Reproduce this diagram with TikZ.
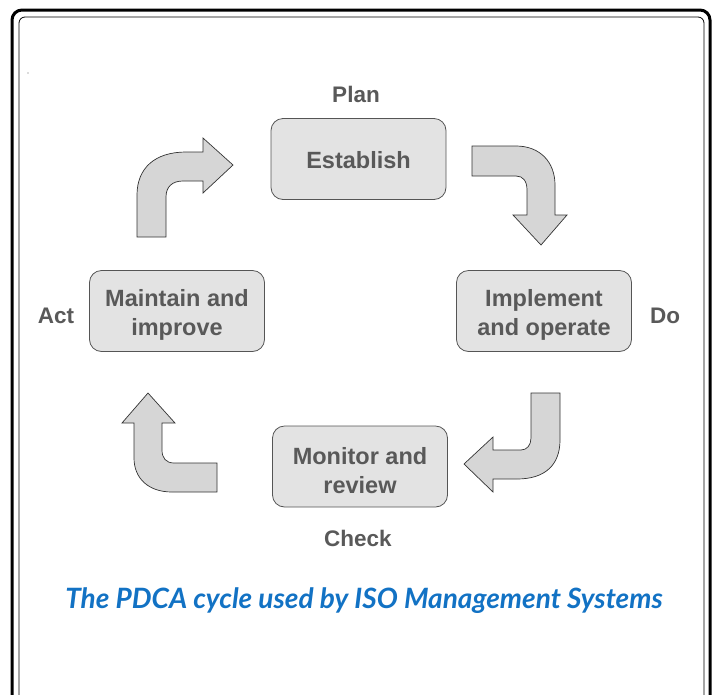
\documentclass[tikz,border=0pt]{standalone}
\usepackage{fontspec}
\setmainfont{Liberation Sans}
\newfontfamily\capfont{Lato}
\definecolor{txtgray}{HTML}{595959}
\definecolor{boxfill}{HTML}{E3E3E3}
\definecolor{boxline}{HTML}{555555}
\definecolor{arrfill}{HTML}{D6D6D6}
\definecolor{capblue}{HTML}{1272C4}
\begin{document}
\begin{tikzpicture}[x=1pt,y=-1pt,
  stagebox/.style={draw=boxline, line width=0.8pt, fill=boxfill, rounded corners=12pt,
    minimum width=175pt, minimum height=81pt, inner sep=0pt},
  stagetext/.style={align=center, text=txtgray,
    font=\fontsize{23.5}{29.5}\selectfont\bfseries, inner sep=0pt},
  phase/.style={text=txtgray, font=\fontsize{22.5}{26}\selectfont\bfseries, inner sep=0pt},
  blockarrow/.style={draw=black!80, line width=0.7pt, fill=arrfill, line join=miter}]
\useasboundingbox (0,0) rectangle (715,694);
\begin{scope}
\clip (0,0) rectangle (715,694);
\draw[line width=3pt, rounded corners=10pt] (12,740) -- (12,10) -- (710,10) -- (710,740);
\draw[line width=0.8pt, rounded corners=6pt] (19,740) -- (19,17) -- (704,17) -- (704,740);
\end{scope}
\fill[black!60] (28,73) circle (0.6);

\node[stagebox] (est) at (358.5,159) {};
\node[stagebox] (imp) at (544,311) {};
\node[stagebox] (mon) at (360,466.5) {};
\node[stagebox] (mai) at (177,311) {};
\node[stagetext] (estt) at ([yshift=-1.5pt]est.center) {Establish};
\node[stagetext] (impt) at ([yshift=-4pt]imp.center) {Implement\\and operate};
\node[stagetext] (mont) at ([yshift=-4pt]mon.center) {Monitor and\\review};
\node[stagetext] (mait) at ([yshift=-4pt]mai.center) {Maintain and\\improve};

\node[phase] (plan) at (356,94) {Plan};
\node[phase] (do) at (665,316) {Do};
\node[phase] (check) at (358,538) {Check};
\node[phase] (act) at (56,316) {Act};

\node[text=capblue, font=\capfont\fontsize{28}{32}\selectfont\bfseries\itshape, inner sep=0pt] (cap) at (364,601) {The PDCA cycle used by ISO Management Systems};

% top-left arrow: Act -> Plan
\draw[blockarrow] (137,237) -- (137,195) .. controls (137,168) and (155,152) .. (186,152)
  -- (203,152) -- (203,138) -- (233,165) -- (203,193) -- (203,181) -- (183,181)
  .. controls (172,181) and (166,187) .. (166,197) -- (166,237) -- cycle;
% top-right arrow: Plan -> Do
\draw[blockarrow] (472,146) -- (516,146) .. controls (540,146) and (555,162) .. (555,185)
  -- (555,215) -- (567,215) -- (541,245) -- (513,215) -- (527,215) -- (527,190)
  .. controls (527,181) and (523,176) .. (516,176) -- (472,176) -- cycle;
% bottom-right arrow: Do -> Check
\draw[blockarrow] (531,393) -- (560,393) -- (560,440) .. controls (560,465) and (545,479) .. (517,479)
  -- (493,479) -- (493,492) -- (464,464) -- (493,437) -- (493,450) -- (521,450)
  .. controls (527,450) and (531,445) .. (531,438) -- cycle;
% bottom-left arrow: Check -> Act
\draw[blockarrow] (217,463) -- (217,492) -- (172,492) .. controls (148,492) and (134,478) .. (134,458)
  -- (134,423) -- (122,423) -- (148,393) -- (175,423) -- (162,423) -- (162,450)
  .. controls (162,458) and (166,463) .. (174,463) -- cycle;
\end{tikzpicture}
\end{document}
